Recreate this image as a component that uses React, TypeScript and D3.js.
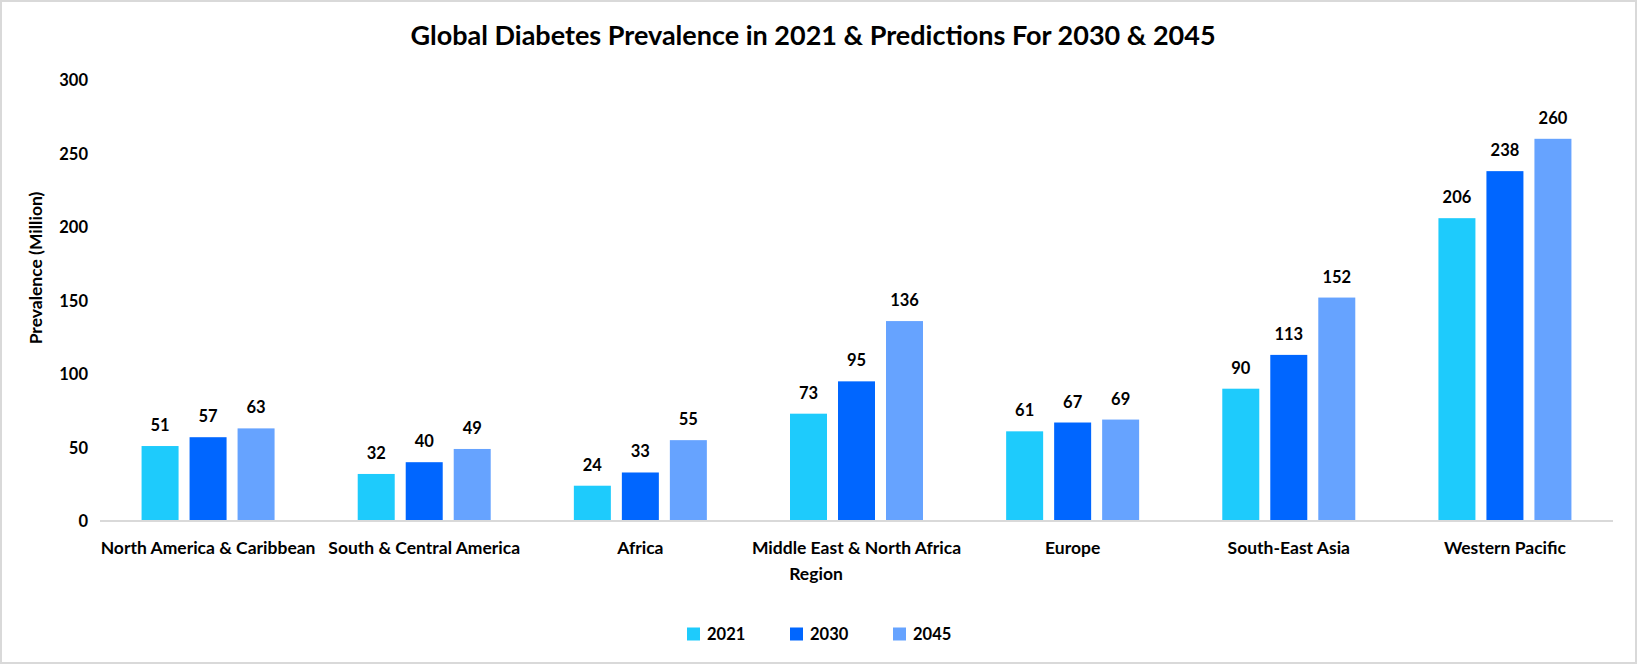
import React from "react";
import * as d3 from "d3";

const categories = [
  "North America & Caribbean",
  "South & Central America",
  "Africa",
  "Middle East & North Africa",
  "Europe",
  "South-East Asia",
  "Western Pacific",
];
const seriesNames = ["2021", "2030", "2045"];
const values2021 = [51, 32, 24, 73, 61, 90, 206];
const values2030 = [57, 40, 33, 95, 67, 113, 238];
const values2045 = [63, 49, 55, 136, 69, 152, 260];
const yTicks = [0, 50, 100, 150, 200, 250, 300];
const colors = ["#1ECBFC", "#0066FF", "#66A3FF"];

const W = 1638;
const H = 665;
const FONT = "Lato, 'Open Sans', sans-serif";

export default function App() {
  const seriesValues = [values2021, values2030, values2045];
  const x = d3.scaleBand<string>().domain(categories).range([100, 1613]).padding(0);
  const groupW = 133;
  const xs = d3.scaleBand<string>().domain(seriesNames).range([0, groupW]).paddingInner(11 / 48).paddingOuter(0);
  const y = d3.scaleLinear().domain([0, 300]).range([521, 80]);
  const offset = (x.bandwidth() - groupW) / 2;
  const cx = 816;

  return (
    <svg width={W} height={H} style={{ position: "absolute", left: 0, top: 0, background: "#fff" }} fontFamily={FONT}>
      <rect x={1} y={1} width={W - 3} height={H - 3} fill="#fff" stroke="#d9d9d9" strokeWidth={2} />
      <text x={813} y={34} textAnchor="middle" dominantBaseline="central" fontSize={27} fontWeight="bold" fill="#000">
        Global Diabetes Prevalence in 2021 &amp; Predictions For 2030 &amp; 2045
      </text>
      {yTicks.map((t) => (
        <text key={t} x={88} y={y(t)} textAnchor="end" dominantBaseline="central" fontSize={16.5} fontWeight="bold" fill="#000">
          {t}
        </text>
      ))}
      <text transform={`translate(35,268) rotate(-90)`} textAnchor="middle" dominantBaseline="central" fontSize={17.5} fontWeight="bold" fill="#000">
        Prevalence (Million)
      </text>
      {categories.map((c, ci) => (
        <g key={c} transform={`translate(${x(c)! + offset},0)`}>
          {seriesNames.map((s, si) => {
            const v = seriesValues[si][ci];
            return (
              <g key={s}>
                <rect x={xs(s)} y={y(v)} width={xs.bandwidth()} height={y(0) - y(v)} fill={colors[si]} />
                <text x={xs(s)! + xs.bandwidth() / 2} y={y(v) - 21} textAnchor="middle" dominantBaseline="central" fontSize={16.5} fontWeight="bold" fill="#000">
                  {v}
                </text>
              </g>
            );
          })}
        </g>
      ))}
      <line x1={100} x2={1613} y1={y(0)} y2={y(0)} stroke="#d9d9d9" strokeWidth={2} />
      {categories.map((c) => (
        <text key={c} x={x(c)! + x.bandwidth() / 2} y={547} textAnchor="middle" dominantBaseline="central" fontSize={17.5} fontWeight="bold" fill="#000">
          {c}
        </text>
      ))}
      <text x={cx} y={573} textAnchor="middle" dominantBaseline="central" fontSize={17.5} fontWeight="bold" fill="#000">
        Region
      </text>
      {seriesNames.map((s, i) => (
        <g key={s} transform={`translate(${687 + i * 103},634)`}>
          <rect x={0} y={-6.5} width={13} height={13} fill={colors[i]} />
          <text x={20} y={0} dominantBaseline="central" fontSize={16.5} fontWeight="bold" fill="#000">
            {s}
          </text>
        </g>
      ))}
    </svg>
  );
}
